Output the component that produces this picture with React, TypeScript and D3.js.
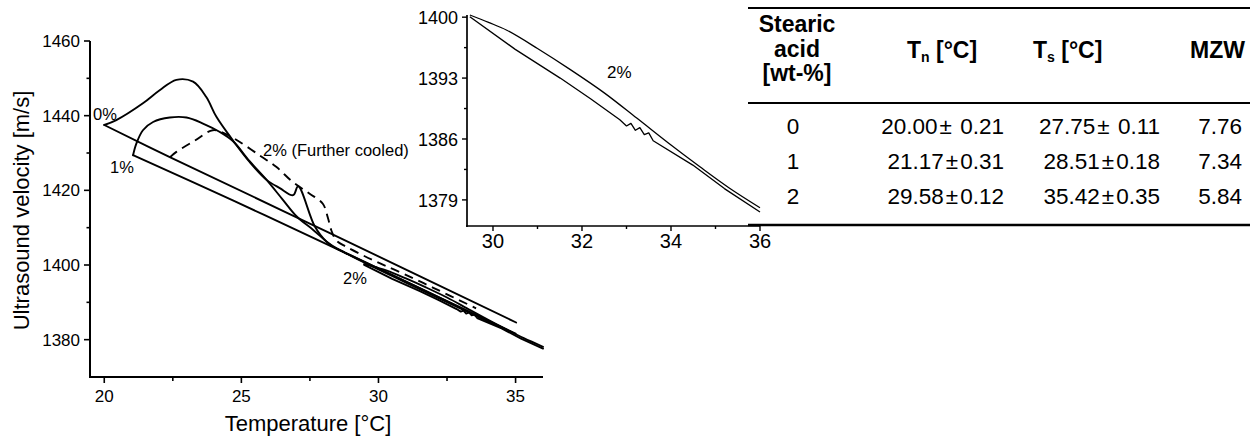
import React from "react";
import * as d3 from "d3";

// ---------- Main chart data (temperature °C, velocity m/s) ----------
const cool0T = [35.02, 28.21, 22.39, 20.0];
const cool0V = [1384.6, 1408.6, 1428.9, 1437.5];

const heat0T = [20.0, 20.44, 21.41, 22.02, 22.63, 23.24, 23.72, 24.09, 24.69, 25.3, 25.92, 26.4, 26.89, 27.07, 27.68, 28.1, 28.8, 31.0, 33.0, 34.85];
const heat0V = [1437.5, 1438.8, 1443.3, 1446.8, 1449.6, 1449.1, 1445.0, 1439.7, 1433.4, 1427.6, 1422.8, 1420.6, 1418.7, 1421.1, 1410.3, 1406.3, 1403.2, 1395.3, 1388.3, 1382.0];

const cool1T = [35.0, 28.34, 24.69, 21.05];
const cool1V = [1381.6, 1404.8, 1417.3, 1429.4];

const heat1T = [21.05, 21.17, 21.41, 21.78, 22.39, 23.0, 23.6, 24.2, 24.69, 25.3, 25.92, 26.5, 27.02, 27.62, 28.35, 29.0, 31.5, 34.6];
const heat1V = [1429.4, 1432.5, 1436.1, 1438.3, 1439.5, 1439.5, 1437.9, 1435.7, 1433.2, 1427.8, 1422.8, 1417.6, 1413.0, 1409.4, 1404.9, 1402.6, 1393.8, 1382.8];

const dash2T = [22.4, 22.63, 23.3, 23.96, 24.4, 24.93, 25.66, 26.27, 26.88, 27.49, 27.97, 28.15, 28.28, 28.46, 28.82, 29.43, 30.04, 30.66, 32.0, 33.56];
const dash2V = [1428.9, 1430.3, 1433.3, 1436.1, 1435.2, 1433.0, 1429.4, 1426.3, 1422.2, 1419.1, 1416.4, 1412.8, 1409.3, 1406.6, 1404.9, 1402.6, 1400.5, 1398.5, 1393.9, 1388.4];

// ---------- 2% data (inset, also drawn in main chart) ----------
const heat2T = [29.48, 29.9, 30.31, 31.0, 31.73, 32.5, 33.23, 34.0, 34.65, 35.3, 36.0];
const heat2V = [1400.25, 1399.4, 1398.5, 1396.4, 1394.0, 1391.3, 1388.4, 1385.3, 1382.8, 1380.4, 1378.1];

const cool2T = [29.48, 30.5, 31.51, 32.2, 32.85, 33.0, 33.1, 33.2, 33.3, 33.4, 33.5, 33.6, 34.49, 35.2, 36.0];
const cool2V = [1400.05, 1396.3, 1393.0, 1390.6, 1388.2, 1387.5, 1387.8, 1387.0, 1387.3, 1386.5, 1386.7, 1385.8, 1383.0, 1380.3, 1377.6];

// ---------- Ticks ----------
const mainXTicks = [20, 25, 30, 35];
const mainXMinor = [22.5, 27.5, 32.5];
const mainYTicks = [1380, 1400, 1420, 1440, 1460];
const mainYMinor = [1390, 1410, 1430, 1450];
const insetXTicks = [30, 32, 34, 36];
const insetXMinor = [31, 33, 35];
const insetYTicks = [1379, 1386, 1393, 1400];
const insetYMinor = [1382.5, 1389.5, 1396.5];

// ---------- Table ----------
const stearicAcid = ["0", "1", "2"];
const tnValues = ["20.00\u00b1 0.21", "21.17\u00b10.31", "29.58\u00b10.12"];
const tsValues = ["27.75\u00b1 0.11", "28.51\u00b10.18", "35.42\u00b10.35"];
const mzwValues = ["7.76", "7.34", "5.84"];

const FONT = "'Liberation Sans', Arial, Helvetica, sans-serif";

const zip = (t: number[], v: number[]) => t.map((d, i) => [d, v[i]] as [number, number]);

function PM({ s }: { s: string }) {
  const [a, b] = s.split("\u00b1");
  return (
    <>
      {a}
      <tspan dx={2}>{"\u00b1"}</tspan>
      <tspan dx={2}>{b}</tspan>
    </>
  );
}

export default function App() {
  const x = d3.scaleLinear().domain([19.48, 36]).range([90, 543]);
  const y = d3.scaleLinear().domain([1370, 1460]).range([377, 41]);
  const xi = d3.scaleLinear().domain([29.416, 36]).range([467, 760]);
  const yi = d3.scaleLinear().domain([1376, 1400.25]).range([226, 15]);

  const lineMain = d3
    .line<[number, number]>()
    .x((d) => x(d[0]))
    .y((d) => y(d[1]))
    .curve(d3.curveCatmullRom.alpha(0.5));
  const lineMainLin = d3
    .line<[number, number]>()
    .x((d) => x(d[0]))
    .y((d) => y(d[1]));
  const lineInset = d3
    .line<[number, number]>()
    .x((d) => xi(d[0]))
    .y((d) => yi(d[1]))
    .curve(d3.curveCatmullRom.alpha(0.5));
  const lineInsetLin = d3
    .line<[number, number]>()
    .x((d) => xi(d[0]))
    .y((d) => yi(d[1]));

  const solidMain = [
    zip(cool0T, cool0V),
    zip(heat0T, heat0V),
    zip(cool1T, cool1V),
    zip(heat1T, heat1V),
    zip(heat2T, heat2V),
  ];

  const [x0, x1] = x.range();
  const [yb, yt] = y.range();
  const [xi0, xi1] = xi.range();
  const [yib, yit] = yi.range();

  const rowY = [134, 169, 204];

  return (
    <svg
      width={1258}
      height={441}
      style={{ position: "absolute", left: 0, top: 0, background: "#fff" }}
      fontFamily={FONT}
    >
      <rect x={0} y={0} width={1258} height={441} fill="#fff" />
      {/* ---------- Main chart ---------- */}
      <g stroke="#000" fill="none" strokeLinejoin="round" strokeLinecap="round">
        {solidMain.map((s, i) => (
          <path key={i} d={lineMain(s) || ""} strokeWidth={1.9} />
        ))}
        <path d={lineMainLin(zip(cool2T, cool2V)) || ""} strokeWidth={1.9} />
        <path d={lineMain(zip(dash2T, dash2V)) || ""} strokeWidth={1.9} strokeDasharray="9 6" strokeLinecap="butt" />
      </g>
      {/* axes */}
      <g stroke="#000" strokeWidth={2}>
        <line x1={x0} x2={x0} y1={yt} y2={yb + 1} />
        <line x1={x0 - 1} x2={x1} y1={yb} y2={yb} />
        {mainXTicks.map((t) => (
          <line key={t} x1={x(t)} x2={x(t)} y1={yb} y2={yb + 6} strokeWidth={1.6} />
        ))}
        {mainXMinor.map((t) => (
          <line key={t} x1={x(t)} x2={x(t)} y1={yb} y2={yb + 4} strokeWidth={1.6} />
        ))}
        {mainYTicks.map((t) => (
          <line key={t} x1={x0 - 6} x2={x0} y1={y(t)} y2={y(t)} strokeWidth={1.6} />
        ))}
        {mainYMinor.map((t) => (
          <line key={t} x1={x0 - 3.5} x2={x0} y1={y(t)} y2={y(t)} strokeWidth={1.6} />
        ))}
      </g>
      <g fontSize={17} fill="#000">
        {mainXTicks.map((t) => (
          <text key={t} x={x(t)} y={yb + 25} textAnchor="middle">
            {t}
          </text>
        ))}
        {mainYTicks.map((t) => (
          <text key={t} x={x0 - 10} y={y(t) + 6} textAnchor="end">
            {t}
          </text>
        ))}
      </g>
      <text x={308} y={431} fontSize={22} textAnchor="middle">
        Temperature [°C]
      </text>
      <text transform="translate(29,210.5) rotate(-90)" fontSize={22} textAnchor="middle">
        Ultrasound velocity [m/s]
      </text>
      <g fontSize={16.5}>
        <text x={93} y={120}>0%</text>
        <text x={110} y={173}>1%</text>
        <text x={263} y={156}>2% (Further cooled)</text>
        <text x={343} y={284}>2%</text>
      </g>

      {/* ---------- Inset ---------- */}
      <g stroke="#000" fill="none" strokeWidth={1.3} strokeLinejoin="round">
        <path d={lineInset(zip(heat2T, heat2V)) || ""} />
        <path d={lineInsetLin(zip(cool2T, cool2V)) || ""} />
      </g>
      <g stroke="#000" strokeWidth={1.7}>
        <line x1={xi0} x2={xi0} y1={yit} y2={yib + 1} />
        <line x1={xi0 - 1} x2={xi1} y1={yib} y2={yib} />
        {insetXTicks.map((t) => (
          <line key={t} x1={xi(t)} x2={xi(t)} y1={yib} y2={yib + 5} strokeWidth={1.4} />
        ))}
        {insetXMinor.map((t) => (
          <line key={t} x1={xi(t)} x2={xi(t)} y1={yib} y2={yib + 3} strokeWidth={1.4} />
        ))}
        {insetYTicks.map((t) => (
          <line key={t} x1={xi0 - 5} x2={xi0} y1={yi(t)} y2={yi(t)} strokeWidth={1.4} />
        ))}
        {insetYMinor.map((t) => (
          <line key={t} x1={xi0 - 3} x2={xi0} y1={yi(t)} y2={yi(t)} strokeWidth={1.4} />
        ))}
      </g>
      <g fill="#000">
        {insetXTicks.map((t) => (
          <text key={t} x={xi(t)} y={yib + 22} textAnchor="middle" fontSize={20}>
            {t}
          </text>
        ))}
        {insetYTicks.map((t) => (
          <text key={t} x={xi0 - 9} y={yi(t) + 7} textAnchor="end" fontSize={18}>
            {t}
          </text>
        ))}
        <text x={607} y={78} fontSize={17}>2%</text>
      </g>

      {/* ---------- Table ---------- */}
      <g stroke="#000">
        <line x1={748} x2={1250} y1={8} y2={8} strokeWidth={2} />
        <line x1={748} x2={1250} y1={103} y2={103} strokeWidth={2} />
        <line x1={748} x2={1250} y1={225} y2={225} strokeWidth={2.5} />
      </g>
      <g fontSize={23} fontWeight="bold" fill="#000">
        <text x={797} y={32} textAnchor="middle">Stearic</text>
        <text x={797} y={57} textAnchor="middle">acid</text>
        <text x={797} y={81} textAnchor="middle">[wt-%]</text>
        <text x={907} y={58}>
          T<tspan fontSize={14} dy={4}>n</tspan>
          <tspan dy={-4}> [°C]</tspan>
        </text>
        <text x={1033} y={58}>
          T<tspan fontSize={14} dy={4}>s</tspan>
          <tspan dy={-4}> [°C]</tspan>
        </text>
        <text x={1245} y={58} textAnchor="end">MZW</text>
      </g>
      <g fontSize={22.5} fill="#000">
        {stearicAcid.map((s, i) => (
          <text key={"a" + i} x={793} y={rowY[i]} textAnchor="middle">{s}</text>
        ))}
        {tnValues.map((s, i) => (
          <text key={"n" + i} x={1004} y={rowY[i]} textAnchor="end"><PM s={s} /></text>
        ))}
        {tsValues.map((s, i) => (
          <text key={"s" + i} x={1160} y={rowY[i]} textAnchor="end"><PM s={s} /></text>
        ))}
        {mzwValues.map((s, i) => (
          <text key={"m" + i} x={1242} y={rowY[i]} textAnchor="end">{s}</text>
        ))}
      </g>
    </svg>
  );
}
